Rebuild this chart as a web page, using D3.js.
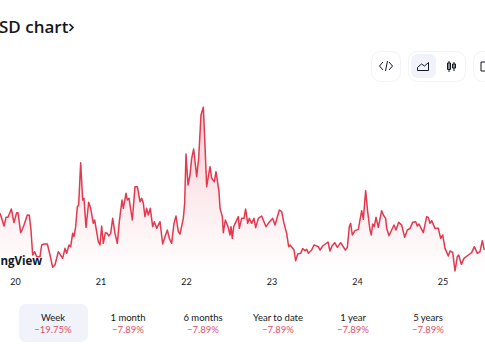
<!DOCTYPE html>
<html><head><meta charset="utf-8">
<script src="https://cdn.jsdelivr.net/npm/d3@7/dist/d3.min.js"></script>
<style>html,body{margin:0;padding:0;background:#fff;overflow:hidden}svg{display:block}text{font-family:Lato,"Open Sans",sans-serif}</style>
</head><body><svg id="c" width="485" height="360"></svg>
<script>
const sessions=[0,5,12,18,24,34,42,50,54,62,66,72,82,88,93,98,104,110,120,125,132,142,150,158,165,175,188,195,200,207,212,218,222,227,232,236,242,248,252,258,266,272,280,284,295,300,305,310,316,322,326,332,338,345,352,358,366,370,378,382,387,397,405,412,420,425,430,435,440,445,451,458,463,470,480,
488,495,502,508,515,522,528,535,540,550,554,558,564,570,575,581,590,596,603,610,615,620,630,635,643,648,657,660,667,670,676,684,690,693,697,701,708,715,718,725,732,737,743,748,755,762,767,775,785,798,805,818,825,838,845,852,860,866,870,878,882,887,893,902,908,915,920,925,935,942,955,
960,968,984,990,996,1004,1012,1022,1036,1042,1048,1052,1057,1065,1075,1085,1090,1097,1103,1110,1114,1118,1123,1128,1135,1145,1150,1157,1160,1167,1175,1182,1188,1196,1205,1214,1222,1230,1238,1247,1252,1257,1270,1280,1285,1290,1295,1305,1315,1322,1328,1335,1345,1350,1358,1365,1372,1376,1384,1392,1405,1415,1423,1432,1440,1447,1453];
const prices=[360,345,322,348,348,373,332,362,362,302,310,325,355,354,310,235,245,230,230,265,268,268,235,198,205,245,225,255,240,265,260,300,290,320,380,385,512,400,405,318,393,375,330,340,275,265,322,270,302,300,292,300,345,300,270,335,400,375,420,400,405,340,440,440,395,405,390,350,375,355,375,320,335,315,335,
268,290,310,285,270,330,352,305,298,345,390,538,445,475,525,553,470,525,655,678,565,440,500,465,455,485,425,375,350,302,340,320,295,320,285,320,335,350,315,345,345,373,330,345,330,345,317,345,352,320,330,345,325,370,365,330,300,260,265,255,250,218,238,240,254,248,252,240,250,265,260,
250,262,274,247,262,272,258,272,250,258,320,330,295,308,312,368,342,428,365,310,295,328,320,348,318,368,355,345,315,293,310,325,310,333,325,288,310,315,333,335,322,328,302,350,348,330,338,315,315,285,295,255,232,247,243,187,230,235,207,225,235,242,260,240,245,278,250];
const yearTicks=[45,301.5,558,814.5,1071,1327.5];
const yearLabels=["20","21","22","23","24","25"];
const tabLabels=["Week","1 month","6 months","Year to date","1 year","5 years"];
const tabChanges=["−19.75%","−7.89%","−7.89%","−7.89%","−7.89%","−7.89%"];
const titleText="SD chart";
const watermark="ngView";

const svg=d3.select("#c");
const x=d3.scaleLinear().domain([0,1455]).range([0,485]);
const y=d3.scaleLinear().domain([1000,100]).range([0,300]);
const red="#e3384f", ink="#131722", pale="#f0f3fa";
const baseY=y(190);

const defs=svg.append("defs");
const g=defs.append("linearGradient").attr("id","fill").attr("gradientUnits","userSpaceOnUse")
  .attr("x1",0).attr("x2",0).attr("y1",y(680)).attr("y2",baseY+4);
g.append("stop").attr("offset",0).attr("stop-color",red).attr("stop-opacity",.26);
g.append("stop").attr("offset",.6).attr("stop-color",red).attr("stop-opacity",.09);
g.append("stop").attr("offset",1).attr("stop-color",red).attr("stop-opacity",0);

const pts=sessions.map((s,i)=>[s,prices[i]]);
svg.append("path").datum(pts).attr("fill","url(#fill)")
  .attr("d",d3.area().x(d=>x(d[0])).y0(baseY+4).y1(d=>y(d[1])));
svg.append("path").datum(pts).attr("fill","none").attr("stroke",red).attr("stroke-width",1.5).attr("stroke-linejoin","round")
  .attr("d",d3.line().x(d=>x(d[0])).y(d=>y(d[1])));

const ax=svg.append("g").attr("transform","translate(0,279)")
  .call(d3.axisBottom(x).tickValues(yearTicks).tickFormat((d,i)=>yearLabels[i]).tickSize(0).tickPadding(0));
ax.select(".domain").remove();
ax.selectAll("text").attr("fill",ink).attr("font-size",9).attr("dy","0.71em").style("font-family","Lato");

svg.append("text").attr("x",-1).attr("y",33).attr("font-size",17).attr("font-weight",600).attr("fill",ink)
  .style("font-family","'Open Sans'").text(titleText);
svg.append("path").attr("d","M69.500 24l3.500 3.500-3.500 3.500").attr("fill","none").attr("stroke",ink).attr("stroke-width",1.6);

svg.append("text").attr("x",0.5).attr("y",265).attr("font-size",11.5).attr("font-weight",700).attr("fill",ink)
  .style("font-family","'Open Sans'").text(watermark);

const band=d3.scaleBand().domain(tabLabels).range([15.5,465.5]);
svg.append("rect").attr("x",19).attr("y",304).attr("width",69).attr("height",38).attr("rx",7).attr("fill",pale);
const t=svg.selectAll("g.tab").data(tabLabels).join("g").attr("class","tab")
  .attr("transform",d=>`translate(${band(d)+band.bandwidth()/2},0)`).attr("text-anchor","middle");
t.append("text").attr("y",321).attr("font-size",9.5).attr("fill",ink).text(d=>d);
t.append("text").attr("y",332.5).attr("font-size",9.5).attr("fill","#dd5068").text((d,i)=>tabChanges[i]);

// toolbar
const tb=svg.append("g");
const box=(a,b,c,d)=>tb.append("rect").attr("x",a+.5).attr("y",b+.5).attr("width",c).attr("height",d).attr("rx",9).attr("fill","#fff").attr("stroke","#f1f3f7");
box(371,51,29,30);box(408,51,57,30);box(473,51,30,30);
tb.append("rect").attr("x",411).attr("y",54).attr("width",25).attr("height",24).attr("rx",6).attr("fill",pale);
const st=d=>tb.append("path").attr("d",d).attr("fill","none").attr("stroke",ink).attr("stroke-width",1);
st("M383 62l-3.500 4 3.500 4M389 62l3.500 4-3.500 4M387.500 61l-2 10");
st("M417.500 70.500v-3l4-3.500 3 2 4-3.500v8z");
st("M449 61v11M447.500 63h3v6.500h-3zM454 62v9M452.500 64h3v4h-3z");
st("M481 62h9v9h-9z");
</script></body></html>
